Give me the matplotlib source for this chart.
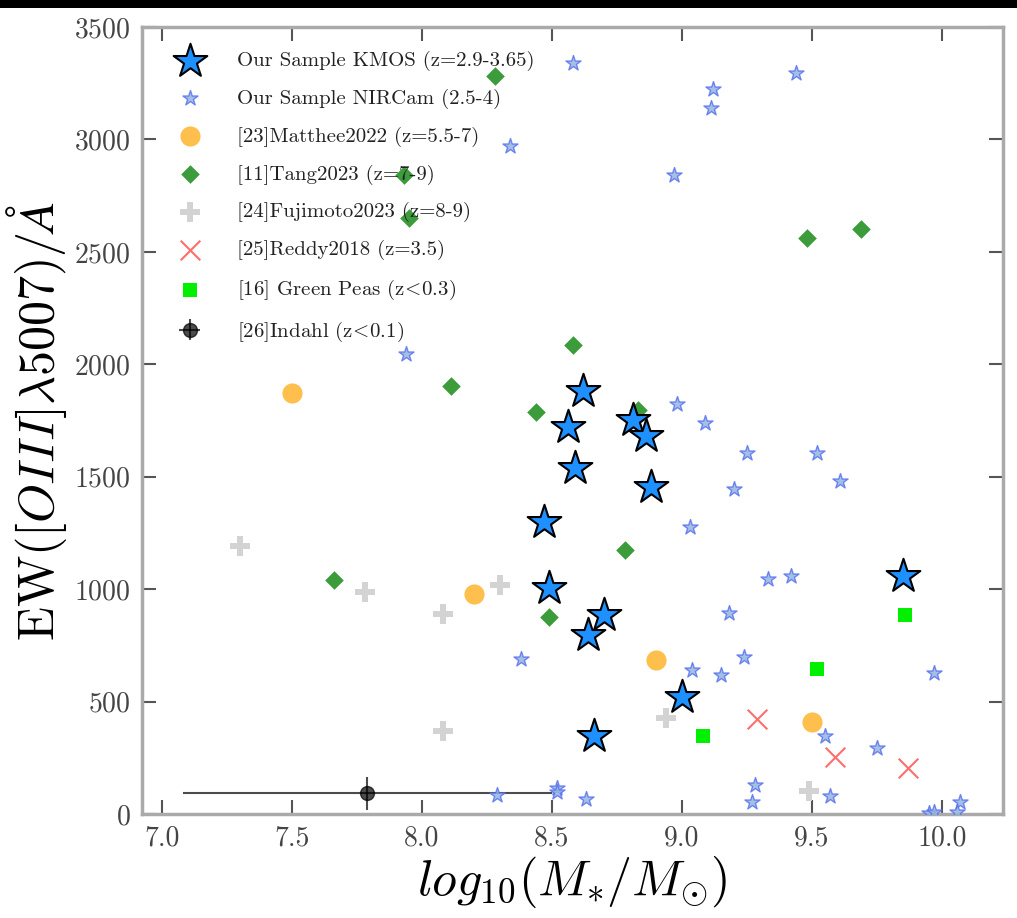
import matplotlib
matplotlib.use("Agg")
import matplotlib.pyplot as plt
from matplotlib.patches import Rectangle

plt.rcParams['font.family'] = 'serif'
plt.rcParams['font.serif'] = ['cmr10', 'DejaVu Serif']
plt.rcParams['mathtext.fontset'] = 'cm'
plt.rcParams['axes.formatter.use_mathtext'] = True

# KMOS sample (big stars)
kmos_mass = [8.62, 8.56, 8.59, 8.47, 8.49, 8.81, 8.86, 8.88, 8.70, 8.64, 9.00, 8.66, 9.85]
kmos_ew = [1880, 1720, 1540, 1300, 1005, 1750, 1680, 1455, 885, 795, 520, 345, 1060]

# NIRCam sample (small stars)
nircam_mass = [8.58, 9.12, 9.11, 9.44, 8.34, 8.97, 7.94, 8.98, 9.09, 9.25, 9.20, 9.52,
               9.61, 9.03, 9.33, 9.42, 9.18, 8.38, 9.04, 9.15, 9.24, 9.97, 9.55, 9.75,
               8.29, 8.52, 8.52, 8.63, 9.28, 9.27, 9.57, 10.07, 10.06, 9.95, 9.97]
nircam_ew = [3340, 3225, 3140, 3295, 2970, 2840, 2045, 1825, 1740, 1605, 1445, 1605,
             1483, 1275, 1045, 1060, 895, 690, 640, 620, 700, 625, 345, 295,
             85, 115, 100, 65, 130, 55, 80, 55, 10, 5, 8]

# Matthee2022
matthee_mass = [7.50, 8.20, 8.90, 9.50]
matthee_ew = [1872, 980, 685, 410]

# Tang2023
tang_mass = [8.28, 7.93, 7.95, 8.58, 8.11, 8.44, 8.83, 8.78, 7.66, 8.49, 9.48, 9.69]
tang_ew = [3280, 2840, 2650, 2085, 1903, 1787, 1796, 1174, 1040, 876, 2560, 2600]

# Fujimoto2023
fuji_mass = [7.30, 7.78, 8.08, 8.30, 8.08, 8.94, 9.49]
fuji_ew = [1192, 987, 889, 1018, 369, 427, 102]

# Reddy2018
reddy_mass = [9.29, 9.59, 9.87]
reddy_ew = [422, 253, 205]

# Green Peas
gp_mass = [9.86, 9.52, 9.08]
gp_ew = [885, 645, 347]

# Indahl
indahl_mass = [7.79]
indahl_ew = [92]
indahl_xerr = [0.71]
indahl_yerr = [74]

fig = plt.figure(figsize=(10.17, 9.18), dpi=100)
ax = fig.add_axes([0.1396, 0.1133, 0.8466, 0.8573])

ax.scatter(kmos_mass, kmos_ew, marker='*', s=650, facecolor='#1e90ff',
           edgecolor='black', linewidths=1.5, zorder=6,
           label='Our Sample KMOS (z=2.9-3.65)')
ax.scatter(nircam_mass, nircam_ew, marker='*', s=130, facecolor='#94b6e0',
           edgecolor='#5a72f0', linewidths=1.0, alpha=0.85, zorder=4,
           label='Our Sample NIRCam (2.5-4)')
ax.scatter(matthee_mass, matthee_ew, marker='o', s=210, color='orange',
           alpha=0.7, linewidths=0, zorder=3, label='[23]Matthee2022 (z=5.5-7)')
ax.scatter(tang_mass, tang_ew, marker='D', s=90, color='#3c9c3c',
           linewidths=0, zorder=3, label='[11]Tang2023 (z=7-9)')
ax.scatter(fuji_mass, fuji_ew, marker='P', s=220, color='lightgray',
           linewidths=0, zorder=3, label='[24]Fujimoto2023 (z=8-9)')
ax.scatter(reddy_mass, reddy_ew, marker='x', s=200, color='#ff5555',
           alpha=0.85, linewidths=1.5, zorder=3, label='[25]Reddy2018 (z=3.5)')
ax.scatter(gp_mass, gp_ew, marker='s', s=90, color='#00f000',
           linewidths=0, zorder=3, label=r'[16] Green Peas (z$\!<\!$0.3)')
ax.errorbar(indahl_mass, indahl_ew, xerr=indahl_xerr, yerr=indahl_yerr,
            fmt='o', color='black', ms=10, alpha=0.7, elinewidth=1.5,
            zorder=3, label=r'[26]Indahl (z$\!<\!$0.1)')

ax.set_xlim(6.923, 10.235)
ax.set_ylim(0, 3500)
ax.set_xticks([7.0, 7.5, 8.0, 8.5, 9.0, 9.5, 10.0])
ax.set_yticks([0, 500, 1000, 1500, 2000, 2500, 3000, 3500])
ax.set_xticklabels(['7.0', '7.5', '8.0', '8.5', '9.0', '9.5', '10.0'])

ax.tick_params(direction='in', length=10, width=1.5, color='#555555',
               labelsize=20, labelcolor='#444444', top=True, right=True, pad=8)
for sp in ax.spines.values():
    sp.set_color('#aaaaaa')
    sp.set_linewidth(2.5)

ax.set_xlabel(r'$log_{10}(M_{*}/M_{\odot})$', fontsize=36, labelpad=2)
ax.set_ylabel(r'$\mathrm{EW}([OIII]\lambda5007)/\AA$', fontsize=36, labelpad=4)

leg = ax.legend(loc='upper left', frameon=False, fontsize=15, labelspacing=0.85,
                handlelength=2.3, handletextpad=1.1, borderaxespad=0.75)
for t in leg.get_texts():
    t.set_color('#222222')

# black strip along the top edge
fig.patches.append(Rectangle((0, 1 - 8 / 918), 1, 8 / 918, transform=fig.transFigure,
                             facecolor='black', edgecolor='none', zorder=10))

fig.savefig('out.png', dpi=100)
